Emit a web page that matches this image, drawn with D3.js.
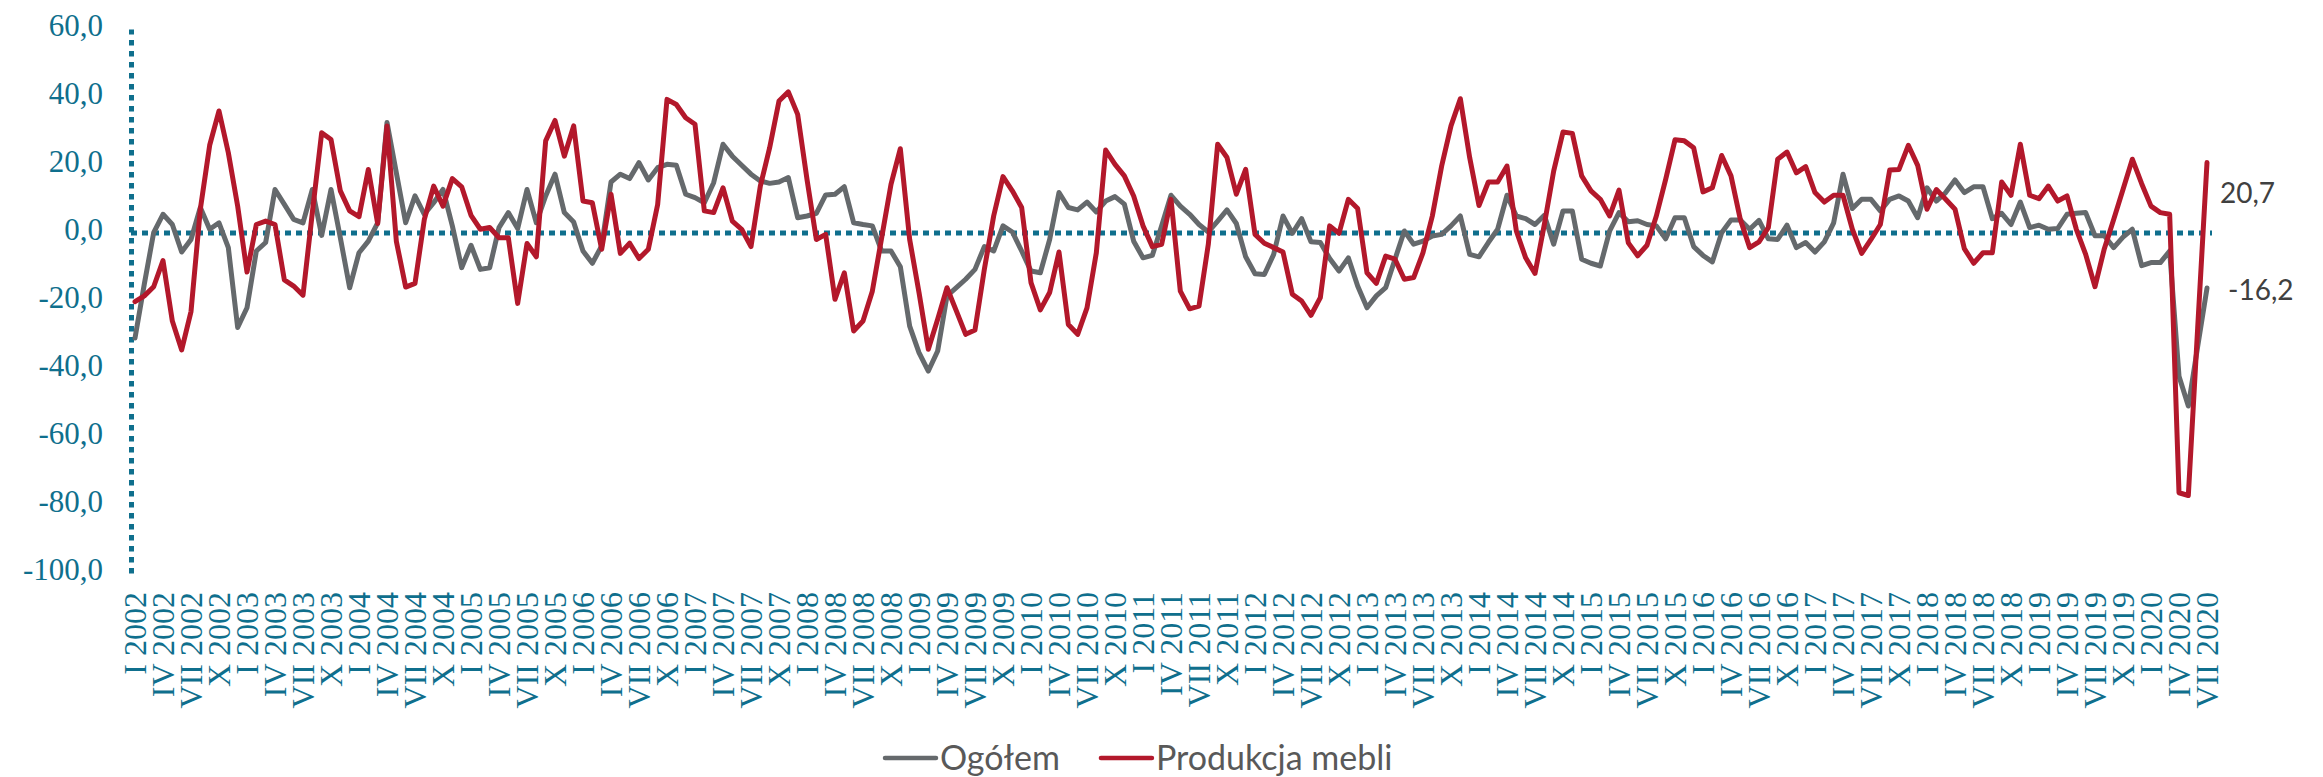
<!DOCTYPE html>
<html>
<head>
<meta charset="utf-8">
<script src="https://cdn.jsdelivr.net/npm/d3@7"></script>
<style>
  body { margin: 0; background: #fff; }
  svg { display: block; }
</style>
</head>
<body>
<svg id="chart"></svg>
<script>
// roman month names and years used for the category axis
const months = ['I', 'II', 'III', 'IV', 'V', 'VI', 'VII', 'VIII', 'IX', 'X', 'XI', 'XII']
const years = [2002, 2003, 2004, 2005, 2006, 2007, 2008, 2009, 2010, 2011, 2012, 2013, 2014, 2015, 2016, 2017, 2018, 2019, 2020]
const lastMonth = 7 // data ends in VII 2020

const categories = []
years.forEach(year => {
  months.forEach((m, mi) => {
    if (year < 2020 || mi < lastMonth) categories.push(m + ' ' + year)
  })
})
// every third month gets a label
const tickLabels = categories.filter((c, i) => i % 3 === 0)

const yTicks = [-100, -80, -60, -40, -20, 0, 20, 40, 60]

const seriesNames = ['Ogółem', 'Produkcja mebli']
const seriesColors = ['#65696c', '#b3182b']

// Ogółem
const ogolem = [
  -30.9, -15.0, 0.1, 5.5, 2.5, -5.6, -1.9, 7.5, 1.1, 3.0, -4.3, -27.8,
  -22.0, -5.3, -2.8, 12.8, 8.4, 4.0, 3.0, 12.8, -0.7, 12.8, -1.4, -16.1,
  -5.8, -2.4, 3.0, 32.5, 17.7, 3.0, 10.9, 5.5, 8.9, 12.8, 2.1, -10.2,
  -3.6, -10.7, -10.2, 1.6, 6.0, 1.3, 12.8, 3.0, 10.9, 17.3, 6.0, 3.2,
  -5.3, -8.9, -3.8, 15.0, 17.3, 16.0, 20.7, 15.6, 19.2, 20.2, 19.9, 11.4,
  10.4, 8.9, 14.8, 26.1, 22.6, 19.9, 17.3, 15.3, 14.6, 15.0, 16.3, 4.5,
  5.0, 5.8, 11.2, 11.4, 13.6, 3.0, 2.5, 2.1, -5.3, -5.3, -9.9, -27.4,
  -35.2, -40.6, -34.7, -18.5, -16.1, -13.6, -10.7, -4.0, -5.3, 2.1, 0.3, -5.3,
  -11.2, -11.7, -1.9, 11.9, 7.5, 6.8, 9.1, 6.2, 9.4, 10.7, 8.5, -2.4,
  -7.3, -6.6, 2.1, 11.1, 7.9, 5.5, 2.5, 0.3, 3.5, 6.8, 2.8, -7.0,
  -12.0, -12.2, -6.3, 5.0, -0.1, 4.2, -2.6, -2.8, -7.5, -11.2, -7.3, -15.6,
  -22.0, -18.5, -16.1, -7.7, 0.6, -3.3, -2.4, -0.9, -0.4, 2.1, 5.0, -6.3,
  -7.0, -2.8, 1.1, 11.1, 5.0, 4.2, 2.5, 5.2, -3.3, 6.5, 6.5, -7.7,
  -8.9, -9.7, 0.6, 6.0, 3.3, 3.6, 2.5, 2.1, -1.7, 4.5, 4.5, -4.0,
  -6.6, -8.5, 0.1, 3.8, 3.8, 1.1, 3.7, -1.7, -1.9, 2.3, -4.3, -2.8,
  -5.6, -2.6, 3.0, 17.3, 7.2, 9.9, 9.9, 6.5, 9.9, 10.9, 9.4, 4.5,
  13.3, 9.4, 11.9, 15.6, 11.9, 13.6, 13.6, 4.2, 5.8, 2.5, 9.1, 1.6,
  2.3, 1.1, 1.3, 5.5, 5.8, 6.0, -0.8, -0.8, -4.3, -1.2, 1.1, -9.6,
  -8.7, -8.7, -5.3, -42.1, -50.9, -33.4, -16.2
]

// Produkcja mebli
const meble = [
  -20.2, -18.5, -15.8, -8.1, -25.9, -34.4, -23.1, 7.0, 25.8, 35.9, 23.6, 7.9,
  -11.5, 2.5, 3.5, 2.5, -13.8, -15.6, -18.3, 6.0, 29.5, 27.5, 12.4, 6.5,
  4.8, 18.7, 2.8, 31.5, -2.4, -15.9, -14.8, 4.0, 13.8, 7.9, 16.0, 13.6,
  5.2, 1.1, 1.6, -1.4, -1.4, -20.7, -3.1, -7.0, 27.1, 33.1, 22.6, 31.5,
  9.4, 8.9, -4.8, 11.4, -6.0, -3.0, -7.5, -4.8, 8.4, 39.3, 37.8, 33.9,
  32.0, 6.5, 6.0, 13.3, 3.5, 1.1, -4.0, 13.8, 25.1, 38.8, 41.5, 34.9,
  15.8, -1.9, -0.4, -19.5, -11.7, -28.8, -25.9, -17.1, -1.4, 14.3, 24.8, -1.9,
  -17.5, -34.2, -25.4, -16.1, -22.9, -29.8, -28.5, -10.7, 5.0, 16.6, 12.4, 7.5,
  -14.6, -22.6, -17.5, -5.6, -26.9, -29.8, -22.0, -5.8, 24.4, 20.2, 16.8, 10.9,
  2.1, -4.0, -3.3, 9.9, -17.1, -22.3, -21.5, -3.3, 26.1, 22.2, 11.4, 18.7,
  -0.4, -3.0, -4.3, -5.6, -18.0, -20.0, -24.2, -19.0, 2.1, -0.1, 9.9, 7.2,
  -11.7, -14.8, -6.8, -7.7, -13.6, -13.1, -5.8, 5.0, 19.7, 31.5, 39.5, 22.2,
  8.1, 15.0, 15.0, 19.7, 0.6, -7.3, -11.9, 2.5, 18.2, 29.7, 29.3, 16.8,
  12.4, 9.9, 5.0, 12.6, -2.9, -6.7, -3.6, 5.0, 15.8, 27.4, 27.1, 25.1,
  12.1, 13.3, 22.8, 16.8, 4.0, -4.3, -2.6, 1.6, 21.7, 23.8, 17.7, 19.5,
  11.9, 9.1, 11.1, 11.1, 1.1, -6.0, -1.9, 2.5, 18.5, 18.7, 25.8, 19.9,
  7.0, 12.8, 9.9, 7.0, -4.6, -8.9, -5.8, -5.8, 15.0, 11.1, 26.1, 11.1,
  10.1, 13.8, 9.4, 10.9, 1.1, -6.3, -15.8, -4.6, 4.0, 12.8, 21.7, 14.5,
  7.9, 6.0, 5.5, -76.4, -77.2, -28.0, 20.7
]

const series = [ogolem, meble]

const width = 2323
const height = 777
const teal = '#0f6f8d'

const svg = d3.select('#chart').attr('width', width).attr('height', height)

const x = d3.scalePoint().domain(categories).range([135, 2207])
const y = d3.scaleLinear().domain([-100, 60]).range([573, 29])

const pl = d3.formatLocale({ decimal: ',', thousands: ' ', grouping: [3], currency: ['', ' zł'], minus: '-' })
const fmt = pl.format('.1f')

// horizontal dotted line at zero
svg.append('line')
  .attr('x1', x.range()[0] - 4)
  .attr('x2', x.range()[1] + 5)
  .attr('y1', y(0))
  .attr('y2', y(0))
  .attr('stroke', teal)
  .attr('stroke-width', 5)
  .attr('stroke-dasharray', '6,5')

// y axis
const yAxis = svg.append('g')
  .attr('transform', 'translate(131,0)')
  .call(d3.axisLeft(y).tickValues(yTicks).tickFormat(fmt).tickSize(0).tickPadding(28))
yAxis.select('.domain')
  .attr('stroke', teal)
  .attr('stroke-width', 5)
  .attr('stroke-dasharray', '5.5,5.5')
yAxis.selectAll('text')
  .attr('dy', null)
  .attr('y', 6)
  .attr('fill', teal)
  .style('font-family', '"Liberation Serif", serif')
  .style('font-size', '31px')

// x axis labels (rotated)
const xAxis = svg.append('g')
  .attr('transform', 'translate(0,592)')
  .call(d3.axisBottom(x).tickValues(tickLabels).tickSize(0))
xAxis.select('.domain').remove()
xAxis.selectAll('text')
  .attr('x', 0)
  .attr('y', 0)
  .attr('dy', '0.34em')
  .attr('transform', 'rotate(-90)')
  .style('text-anchor', 'end')
  .attr('fill', teal)
  .style('font-family', '"Liberation Serif", serif')
  .style('font-size', '32px')

// lines
const line = d3.line()
  .x((d, i) => x(categories[i]))
  .y(d => y(d))

svg.append('g').selectAll('path')
  .data(series)
  .join('path')
  .attr('d', line)
  .attr('fill', 'none')
  .attr('stroke', (d, i) => seriesColors[i])
  .attr('stroke-width', 5)
  .attr('stroke-linejoin', 'round')
  .attr('stroke-linecap', 'round')

// last value labels
const lastCat = categories[categories.length - 1]
const labelOffsets = [{ dx: 21, dy: 12 }, { dx: 13, dy: 40 }]
svg.append('g').selectAll('text')
  .data(series)
  .join('text')
  .attr('x', (d, i) => x(lastCat) + labelOffsets[i].dx)
  .attr('y', (d, i) => y(d[d.length - 1]) + labelOffsets[i].dy)
  .attr('fill', '#404040')
  .style('font-family', 'Lato, sans-serif')
  .style('font-size', '28px')
  .text(d => fmt(d[d.length - 1]))

// legend
const legend = svg.append('g').attr('transform', 'translate(883,758)')
let lx = 0
seriesNames.forEach((name, i) => {
  legend.append('line')
    .attr('x1', lx + 2)
    .attr('x2', lx + 53)
    .attr('stroke', seriesColors[i])
    .attr('stroke-width', 4.5)
    .attr('stroke-linecap', 'round')
  const t = legend.append('text')
    .attr('x', lx + 57)
    .attr('dy', '0.35em')
    .attr('fill', '#595959')
    .style('font-family', 'Lato, sans-serif')
    .style('font-size', '34px')
    .text(name)
  lx += 57 + t.node().getComputedTextLength() + 39
})
</script>
</body>
</html>
